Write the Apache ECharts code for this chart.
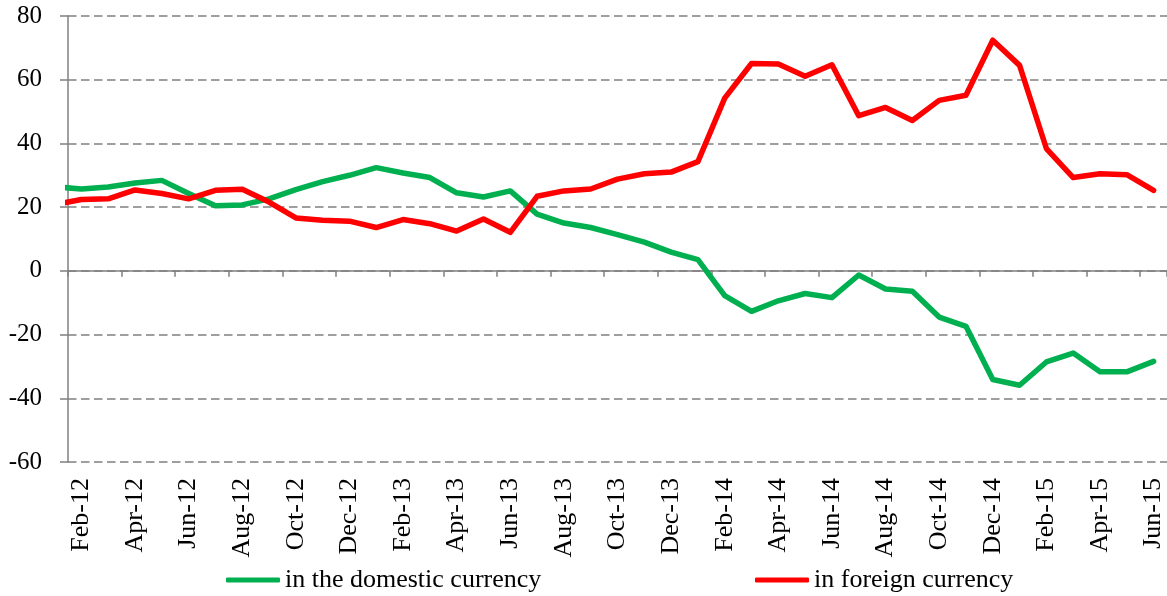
<!DOCTYPE html>
<html>
<head>
<meta charset="utf-8">
<style>
  html, body { margin: 0; padding: 0; background: #fff; }
  #chart { width: 1167px; height: 596px; }
</style>
<script src="https://cdn.jsdelivr.net/npm/echarts@6/dist/echarts.min.js"></script>
</head>
<body>
<div id="chart"></div>
<script>
const months = [
  'Feb-12', 'Mar-12', 'Apr-12', 'May-12', 'Jun-12', 'Jul-12', 'Aug-12', 'Sep-12', 'Oct-12', 'Nov-12', 'Dec-12',
  'Jan-13', 'Feb-13', 'Mar-13', 'Apr-13', 'May-13', 'Jun-13', 'Jul-13', 'Aug-13', 'Sep-13', 'Oct-13', 'Nov-13', 'Dec-13',
  'Jan-14', 'Feb-14', 'Mar-14', 'Apr-14', 'May-14', 'Jun-14', 'Jul-14', 'Aug-14', 'Sep-14', 'Oct-14', 'Nov-14', 'Dec-14',
  'Jan-15', 'Feb-15', 'Mar-15', 'Apr-15', 'May-15', 'Jun-15'
]

const domestic = [
  25.7, 26.3, 27.6, 28.4, 24.3, 20.4, 20.7, 22.6, 25.5, 28.0, 30.0,
  32.4, 30.7, 29.3, 24.5, 23.2, 25.1, 17.8, 15.0, 13.6, 11.4, 9.0,
  5.9, 3.5, -7.8, -12.7, -9.4, -7.1, -8.4, -1.3, -5.7, -6.4,
  -14.5, -17.4, -34.1, -35.9, -28.6, -25.8, -31.7, -31.7, -28.4
]

const foreign = [
  22.4, 22.6, 25.4, 24.3, 22.6, 25.3, 25.6, 21.6, 16.6, 15.9, 15.6,
  13.6, 16.1, 14.8, 12.5, 16.3, 12.1, 23.4, 25.1, 25.7, 28.8, 30.5,
  31.0, 34.3, 54.2, 65.1, 64.9, 61.1, 64.7, 48.7, 51.3, 47.2,
  53.5, 55.1, 72.4, 64.5, 38.4, 29.3, 30.5, 30.2, 25.3
]

// Jan-12 lies just left of the plot; only its lead-in segment shows
const domesticJan12 = 26.4
const foreignJan12 = 20.8

const yTicks = { min: -60, max: 80, step: 20 }

const font = '"Liberation Serif", "Times New Roman", serif'
const gray = '#808080'
const green = '#00b050'
const red = '#ff0000'

function toPoints(prev, values) {
  return [[-1, prev]].concat(values.map((v, i) => [i, v]))
}

const chart = echarts.init(document.getElementById('chart'))

chart.setOption({
  animation: false,
  textStyle: { fontFamily: font, color: '#000' },
  grid: { left: 68, right: -4, top: 16, bottom: 134 },
  legend: [
    {
      data: ['in the domestic currency'],
      left: 226,
      top: 567,
      padding: 0,
      icon: 'roundRect',
      itemWidth: 54,
      itemHeight: 5,
      textStyle: { fontFamily: font, fontSize: 26, color: '#000', lineHeight: 26 }
    },
    {
      data: ['in foreign currency'],
      left: 755,
      top: 567,
      padding: 0,
      icon: 'roundRect',
      itemWidth: 54,
      itemHeight: 5,
      textStyle: { fontFamily: font, fontSize: 26, color: '#000', lineHeight: 26 }
    }
  ],
  xAxis: [
    {
      // month labels below the plot
      type: 'category',
      data: months,
      position: 'bottom',
      axisLine: { show: false, onZero: false },
      axisTick: { show: false },
      splitLine: { show: false },
      axisLabel: {
        interval: 1,
        rotate: 90,
        margin: 16,
        fontSize: 26,
        fontFamily: font,
        color: '#000'
      }
    },
    {
      // axis line crossing at zero
      type: 'category',
      data: months,
      position: 'bottom',
      axisLine: { show: true, onZero: true, lineStyle: { color: gray, width: 1.5 } },
      axisTick: { show: true, interval: 1, length: 6, lineStyle: { color: gray, width: 1.5 } },
      axisLabel: { show: false },
      splitLine: { show: false }
    },
    {
      type: 'value',
      position: 'top',
      min: -0.5,
      max: months.length - 0.5,
      show: false
    }
  ],
  yAxis: {
    type: 'value',
    min: yTicks.min,
    max: yTicks.max,
    interval: yTicks.step,
    axisLine: { show: true, onZero: false, lineStyle: { color: gray, width: 1.5 } },
    axisTick: { show: true, length: 8, lineStyle: { color: gray, width: 1.5 } },
    axisLabel: { fontSize: 25, margin: 26, fontFamily: font, color: '#000' },
    splitLine: {
      show: true,
      lineStyle: { color: gray, width: 1.5, type: [8.5, 4.5] }
    }
  },
  series: [
    {
      name: 'in the domestic currency',
      type: 'line',
      xAxisIndex: 2,
      data: toPoints(domesticJan12, domestic),
      symbol: 'none',
      clip: true,
      itemStyle: { color: green },
      lineStyle: { color: green, width: 5.5, cap: 'round', join: 'round' }
    },
    {
      name: 'in foreign currency',
      type: 'line',
      xAxisIndex: 2,
      data: toPoints(foreignJan12, foreign),
      symbol: 'none',
      clip: true,
      itemStyle: { color: red },
      lineStyle: { color: red, width: 5.5, cap: 'round', join: 'round' }
    }
  ]
})
</script>
</body>
</html>
